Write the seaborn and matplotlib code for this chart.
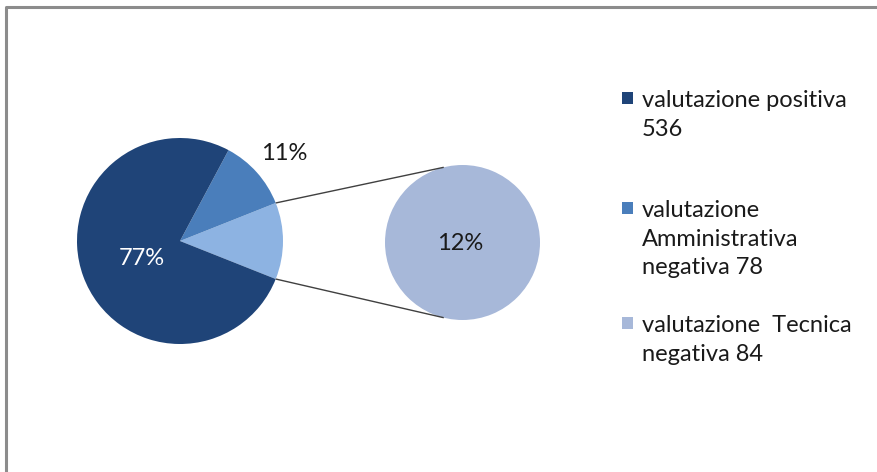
import numpy as np
import matplotlib
matplotlib.use("Agg")
import matplotlib.pyplot as plt
from matplotlib.patches import Rectangle
import seaborn as sns

# Esiti delle valutazioni
legenda = [["valutazione positiva", "536"],
           ["valutazione", "Amministrativa", "negativa 78"],
           ["valutazione  Tecnica", "negativa 84"]]
valori = [536, 78, 84]
colori_legenda = ["#1F4478", "#4A7EBB", "#A7B8D9"]
colore_fetta_sec = "#8DB3E2"

sns.set_theme(style="white")
plt.rcParams["font.family"] = ["Lato", "DejaVu Sans"]

W, H = 877, 472
fig = plt.figure(figsize=(W / 100, H / 100), dpi=100)
ax = fig.add_axes([0, 0, 1, 1])


def py(y):
    return H - y


totale = sum(valori)
pos, amm, tec = valori

# Torta principale: la quota "Tecnica" viene centrata a destra ed esplosa nel secondo cerchio
c_main = (180, py(241))
r_main = 103
start = -tec / totale * 180
wedges, _ = ax.pie([tec, amm, pos],
                   colors=[colore_fetta_sec, colori_legenda[1], colori_legenda[0]],
                   startangle=start, counterclock=True, center=c_main, radius=r_main,
                   wedgeprops=dict(linewidth=0), frame=True)

# Secondo cerchio
c_sec = (462.5, py(242.5))
r_sec = 77.5
ax.pie([tec], colors=[colori_legenda[2]], center=c_sec, radius=r_sec,
       wedgeprops=dict(linewidth=0), frame=True)
ax.set_xlim(0, W)
ax.set_ylim(0, H)
ax.set_aspect("equal")
ax.axis("off")

# Linee di collegamento
for ang_main, ang_sec in [(wedges[0].theta2, 104), (wedges[0].theta1, -104)]:
    a1, a2 = np.deg2rad(ang_main), np.deg2rad(ang_sec)
    x1 = c_main[0] + r_main * np.cos(a1)
    y1 = c_main[1] + r_main * np.sin(a1)
    x2 = c_sec[0] + r_sec * np.cos(a2)
    y2 = c_sec[1] + r_sec * np.sin(a2)
    ax.plot([x1, x2], [y1, y2], color="#404040", lw=1.0, solid_capstyle="butt")


def pct(v):
    return f"{round(v / totale * 100):d}%"


fs = 17
testo = "#1a1a1a"
# Etichette percentuali
w_amm, w_pos = wedges[1], wedges[2]
for w, v, dist, ang_off, col in [(w_amm, amm, 1.32, -1.5, testo), (w_pos, pos, 0.41, 4.5, "white")]:
    mid = np.deg2rad((w.theta1 + w.theta2) / 2 + ang_off)
    ax.text(c_main[0] + dist * r_main * np.cos(mid), c_main[1] + dist * r_main * np.sin(mid),
            pct(v), ha="center", va="center", fontsize=fs, color=col)
ax.text(c_sec[0] - 2, c_sec[1] - 1, pct(tec), ha="center", va="center", fontsize=fs, color=testo)

# Legenda
basi = [107, 217, 332]
passo = 28.7
for righe, col, y0 in zip(legenda, colori_legenda, basi):
    ax.add_patch(Rectangle((622, py(y0 - 3)), 11, 12, color=col, lw=0))
    for i, riga in enumerate(righe):
        ax.text(642, py(y0 + i * passo), riga, ha="left", va="baseline",
                fontsize=fs, color=testo)

# Bordo dell'area del grafico
ax.plot([5.5, 5.5, W + 5], [-5, py(6.5), py(6.5)], color="#8C8C8C", lw=2.2, clip_on=False)

fig.savefig("out.png", dpi=100)
